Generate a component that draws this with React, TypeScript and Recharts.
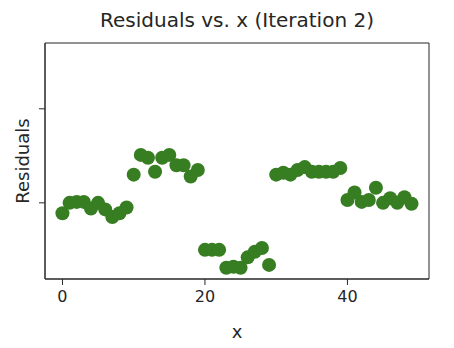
import React from "react";
import {
    ScatterChart,
    Scatter,
    XAxis,
    YAxis,
    ReferenceArea,
} from "recharts";

// iteration index (x) and residual values
const xValues = [
    0, 1, 2, 3, 4, 5, 6, 7, 8, 9,
    10, 11, 12, 13, 14, 15, 16, 17, 18, 19,
    20, 21, 22, 23, 24, 25, 26, 27, 28, 29,
    30, 31, 32, 33, 34, 35, 36, 37, 38, 39,
    40, 41, 42, 43, 44, 45, 46, 47, 48, 49,
];
const residuals = [
    -0.11, 0.0, 0.01, 0.01, -0.06, 0.0, -0.07, -0.15, -0.11, -0.05,
    0.3, 0.51, 0.48, 0.33, 0.48, 0.51, 0.4, 0.4, 0.28, 0.35,
    -0.5, -0.5, -0.5, -0.69, -0.68, -0.69, -0.58, -0.52, -0.48, -0.66,
    0.3, 0.32, 0.3, 0.35, 0.38, 0.33, 0.33, 0.33, 0.33, 0.37,
    0.03, 0.11, 0.01, 0.03, 0.16, 0.0, 0.05, 0.0, 0.06, -0.01,
];
const xTicks = [0, 20, 40];
const yTicks = [0, 1];
const xDomain = [-2.45, 51.45];
const yDomain = [-0.81, 1.7];

const data = xValues.map((x, i) => ({ x, y: residuals[i] }));

const FONT = "'DejaVu Sans', sans-serif";
const AXIS = "#262626";
const GREEN = "#377d22";

const Dot = (props: any) => {
    const { cx, cy } = props;
    if (cx == null || cy == null) return null;
    return <circle cx={cx} cy={cy} r={7} fill={GREEN} />;
};

export default function App() {
    return (
        <div
            style={{
                position: "fixed",
                left: 0,
                top: 0,
                width: 454,
                height: 348,
                background: "#fff",
                fontFamily: FONT,
            }}
        >
            <ScatterChart
                width={454}
                height={348}
                margin={{ top: 43, right: 25, bottom: 0, left: 0 }}
            >
                <XAxis
                    type="number"
                    dataKey="x"
                    domain={xDomain}
                    ticks={xTicks}
                    height={69}
                    tickSize={6}
                    tickMargin={6}
                    stroke={AXIS}
                    tick={{ fill: "#262626", fontSize: 16, fontFamily: FONT }}
                    allowDataOverflow
                />
                <YAxis
                    type="number"
                    dataKey="y"
                    domain={yDomain}
                    ticks={yTicks}
                    width={45}
                    tickSize={6}
                    tickFormatter={() => ""}
                    stroke={AXIS}
                    allowDataOverflow
                />
                <Scatter
                    data={data}
                    fill={GREEN}
                    shape={<Dot />}
                    isAnimationActive={false}
                />
                {/* frame: top and right spines */}
                <ReferenceArea
                    x1={xDomain[0]}
                    x2={xDomain[1]}
                    y1={yDomain[0]}
                    y2={yDomain[1]}
                    fill="none"
                    fillOpacity={0}
                    stroke={AXIS}
                    strokeWidth={1}
                    ifOverflow="visible"
                />
            </ScatterChart>
            <div
                style={{
                    position: "absolute",
                    left: 45,
                    width: 384,
                    top: 8,
                    textAlign: "center",
                    fontSize: 20,
                    color: "#262626",
                    whiteSpace: "nowrap",
                }}
            >
                Residuals vs. x (Iteration 2)
            </div>
            <div
                style={{
                    position: "absolute",
                    left: 45,
                    width: 384,
                    top: 321,
                    textAlign: "center",
                    fontSize: 18,
                    color: "#262626",
                }}
            >
                x
            </div>
            <div
                style={{
                    position: "absolute",
                    left: 22,
                    top: 161,
                    transform: "translate(-50%, -50%) rotate(-90deg)",
                    fontSize: 18,
                    color: "#262626",
                    whiteSpace: "nowrap",
                }}
            >
                Residuals
            </div>
        </div>
    );
}
